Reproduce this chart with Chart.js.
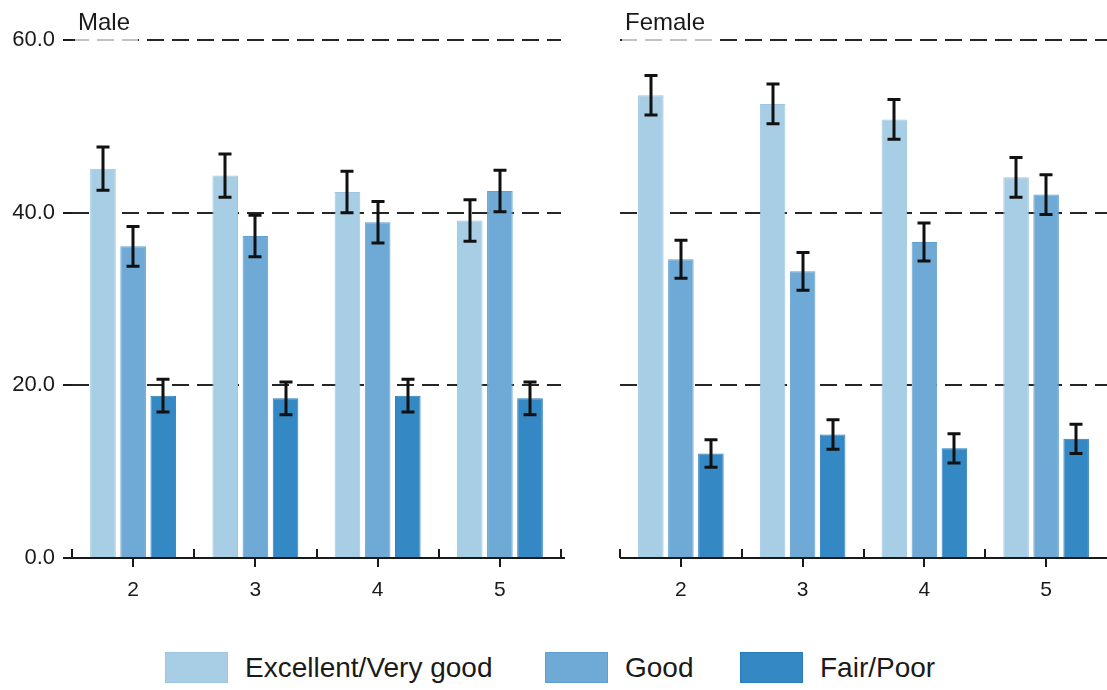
<!DOCTYPE html>
<html>
<head>
<meta charset="utf-8">
<script src="https://cdn.jsdelivr.net/npm/chart.js@4.4.1/dist/chart.umd.min.js"></script>
<style>
  html, body { margin: 0; padding: 0; background: #fff; }
  body { width: 1107px; height: 690px; position: relative; overflow: hidden;
         font-family: "Liberation Sans", Arial, sans-serif; color: #222; }
  canvas { position: absolute; top: 0; }
  #maleChart { left: 0; }
  #femaleChart { left: 600px; }
  .legend-item { position: absolute; top: 652px; height: 31px; display: flex; align-items: center; }
  .legend-box { width: 63px; height: 31px; box-sizing: border-box; border: 1px solid; }
  .legend-label { margin-left: 17px; font-size: 28px; line-height: 31px; color: #1a1a1a; white-space: nowrap; }
</style>
</head>
<body>
<canvas id="maleChart" width="580" height="610"></canvas>
<canvas id="femaleChart" width="507" height="610"></canvas>
<div id="legend"></div>

<script>
// Categories on the x axis
const categories = ['2', '3', '4', '5'];
const seriesNames = ['Excellent/Very good', 'Good', 'Fair/Poor'];
const seriesColors = ['#a8cee6', '#6eaad5', '#3489c4'];
const seriesBorders = ['#9cc6e2', '#629fcf', '#2a7dbd'];
const yTicks = [0, 20, 40, 60];

// Male: percentages and error half-widths per category
const maleExcellent = [45.1, 44.3, 42.4, 39.1];
const maleGood      = [36.1, 37.3, 38.9, 42.5];
const maleFair      = [18.8, 18.5, 18.8, 18.5];
const maleExcellentErr = [2.5, 2.5, 2.4, 2.4];
const maleGoodErr      = [2.3, 2.4, 2.4, 2.4];
const maleFairErr      = [1.9, 1.9, 1.9, 1.9];

// Female: percentages and error half-widths per category
const femaleExcellent = [53.6, 52.6, 50.8, 44.1];
const femaleGood      = [34.6, 33.2, 36.6, 42.1];
const femaleFair      = [12.1, 14.3, 12.7, 13.8];
const femaleExcellentErr = [2.3, 2.3, 2.3, 2.3];
const femaleGoodErr      = [2.2, 2.2, 2.2, 2.3];
const femaleFairErr      = [1.6, 1.7, 1.7, 1.7];

const FONT = '"Liberation Sans", Arial, sans-serif';
const INK = '#1a1a1a';

function makeDatasets(values, errors) {
  return values.map((vals, i) => ({
    label: seriesNames[i],
    data: vals,
    errors: errors[i],
    backgroundColor: seriesColors[i],
    borderColor: seriesBorders[i],
    borderWidth: 1,
    categoryPercentage: 0.74,
    barPercentage: 0.85
  }));
}

// Error bars, x axis line with ticks, and the panel title
const panelDecor = {
  id: 'panelDecor',
  afterDatasetsDraw(chart) {
    const ctx = chart.ctx;
    const ys = chart.scales.y;
    ctx.save();
    ctx.strokeStyle = '#111';
    ctx.lineWidth = 3;
    ctx.lineCap = 'butt';
    chart.data.datasets.forEach((ds, i) => {
      const meta = chart.getDatasetMeta(i);
      meta.data.forEach((bar, j) => {
        const v = ds.data[j], e = ds.errors[j];
        const yTop = ys.getPixelForValue(v + e);
        const yBot = ys.getPixelForValue(v - e);
        const cx = Math.round(bar.x);
        ctx.beginPath();
        ctx.moveTo(cx, yTop); ctx.lineTo(cx, yBot);
        ctx.moveTo(cx - 6.5, yTop); ctx.lineTo(cx + 6.5, yTop);
        ctx.moveTo(cx - 6.5, yBot); ctx.lineTo(cx + 6.5, yBot);
        ctx.stroke();
      });
    });
    ctx.restore();
  },
  afterDraw(chart, args, opts) {
    const ctx = chart.ctx;
    const xs = chart.scales.x, ys = chart.scales.y;
    const y0 = Math.round(ys.getPixelForValue(0));
    const step = xs.getPixelForValue(1) - xs.getPixelForValue(0);
    ctx.save();
    ctx.strokeStyle = INK;
    ctx.lineWidth = 2;
    // axis line
    ctx.beginPath();
    ctx.moveTo(xs.left - opts.axisExtLeft, y0);
    ctx.lineTo(xs.right + opts.axisExtRight, y0);
    ctx.stroke();
    // boundary ticks pointing up, centre ticks pointing down
    ctx.beginPath();
    for (let i = 0; i <= categories.length; i++) {
      const bx = Math.round(xs.getPixelForValue(i) - step / 2);
      if (bx > chart.width - 2) continue;
      ctx.moveTo(bx, y0); ctx.lineTo(bx, y0 - 9);
    }
    for (let i = 0; i < categories.length; i++) {
      const cx = Math.round(xs.getPixelForValue(i));
      ctx.moveTo(cx, y0); ctx.lineTo(cx, y0 + 9);
    }
    ctx.stroke();
    // title with a translucent backing box
    ctx.font = '24px ' + FONT;
    const tx = xs.left + opts.titleDx;
    const w = ctx.measureText(opts.title).width;
    ctx.fillStyle = 'rgba(255,255,255,0.72)';
    ctx.fillRect(tx - 3, 6, w + 11, 38);
    ctx.fillStyle = INK;
    ctx.textBaseline = 'alphabetic';
    ctx.fillText(opts.title, tx, 29.5);
    ctx.restore();
  }
};

function makeChart(canvasId, values, errors, cfg) {
  return new Chart(document.getElementById(canvasId), {
    type: 'bar',
    data: { labels: categories, datasets: makeDatasets(values, errors) },
    plugins: [panelDecor],
    options: {
      responsive: false,
      animation: false,
      events: [],
      layout: { padding: { top: 40, bottom: 0, left: cfg.padLeft, right: cfg.padRight } },
      plugins: {
        legend: { display: false },
        tooltip: { enabled: false },
        title: { display: false },
        panelDecor: { title: cfg.title, titleDx: cfg.titleDx, axisExtLeft: cfg.axisExtLeft, axisExtRight: cfg.axisExtRight }
      },
      scales: {
        x: {
          grid: { display: false },
          border: { display: false },
          ticks: { color: INK, font: { family: FONT, size: 21 }, padding: 12 },
          afterFit: s => { s.height = 52; }
        },
        y: {
          min: 0, max: 60,
          afterBuildTicks: s => { s.ticks = yTicks.map(v => ({ value: v })); },
          grid: {
            color: c => (c.tick && c.tick.value === 0) ? 'rgba(0,0,0,0)' : '#262626',
            lineWidth: 2,
            drawTicks: cfg.showYLabels,
            tickLength: 9,
            tickColor: INK,
            tickWidth: 2
          },
          border: { display: false, dash: [17, 8] },
          ticks: {
            display: cfg.showYLabels,
            color: INK,
            font: { family: FONT, size: 22 },
            padding: 8,
            callback: v => Number(v).toFixed(1)
          },
          afterFit: s => { s.width = cfg.yWidth; }
        }
      }
    }
  });
}

makeChart('maleChart',
  [maleExcellent, maleGood, maleFair],
  [maleExcellentErr, maleGoodErr, maleFairErr],
  { title: 'Male', titleDx: 6, padLeft: 0, padRight: 19, yWidth: 72, showYLabels: true, axisExtLeft: 9, axisExtRight: 4 });

makeChart('femaleChart',
  [femaleExcellent, femaleGood, femaleFair],
  [femaleExcellentErr, femaleGoodErr, femaleFairErr],
  { title: 'Female', titleDx: 5, padLeft: 20, padRight: 0, yWidth: 0, showYLabels: false, axisExtLeft: 0, axisExtRight: 0 });

// Shared legend below both panels
const legendLefts = [165, 545, 740];
const legend = document.getElementById('legend');
seriesNames.forEach((name, i) => {
  const item = document.createElement('div');
  item.className = 'legend-item';
  item.style.left = legendLefts[i] + 'px';
  const box = document.createElement('div');
  box.className = 'legend-box';
  box.style.background = seriesColors[i];
  box.style.borderColor = seriesBorders[i];
  const label = document.createElement('span');
  label.className = 'legend-label';
  label.textContent = name;
  item.appendChild(box);
  item.appendChild(label);
  legend.appendChild(item);
});
</script>
</body>
</html>
